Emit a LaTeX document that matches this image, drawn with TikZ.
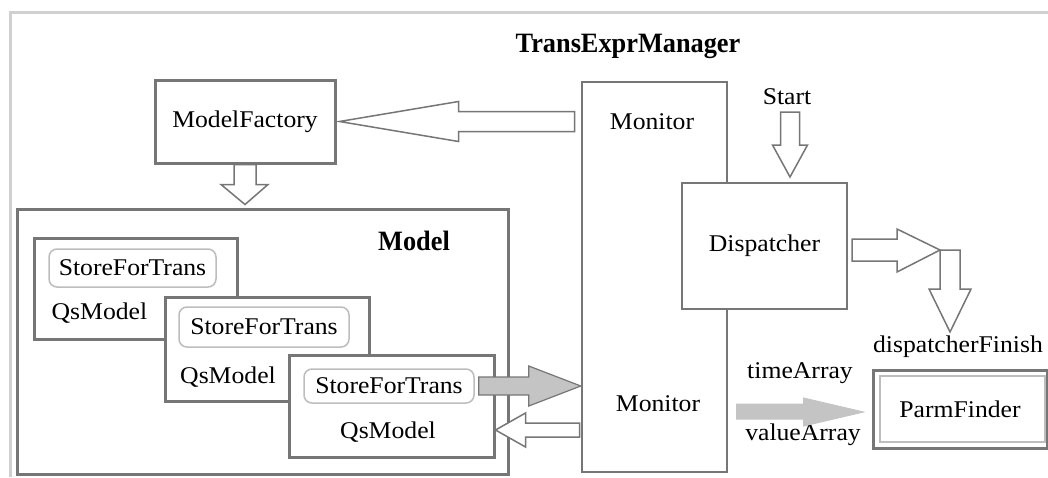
\documentclass[tikz,border=0pt]{standalone}
\usepackage{fontspec}
\setmainfont[FakeStretch=1.07]{Liberation Serif}
\newfontfamily\headfont[FakeStretch=0.94]{Liberation Serif}
\usepackage{tikz}
\usetikzlibrary{arrows,positioning}

\definecolor{boxgray}{HTML}{767676}
\definecolor{framegray}{HTML}{D0D0D0}
\definecolor{storegray}{HTML}{BDBDBD}
\definecolor{fillgray}{HTML}{C4C4C4}

\begin{document}
\begin{tikzpicture}[x=1pt, y=-1pt, font=\fontsize{24}{28}\selectfont,
    box/.style={draw=boxgray, line width=2.5pt, fill=white, inner sep=0pt},
    store/.style={draw=storegray, line width=1.5pt, rounded corners=8pt, fill=white, inner sep=0pt},
    heading/.style={font=\headfont\bfseries\fontsize{28}{32}\selectfont},
    hollow/.style={draw=boxgray, line width=1.5pt, fill=white, line join=miter},
    shaded/.style={draw=boxgray, line width=1.2pt, fill=fillgray, line join=miter},
    dataflow/.style={draw=fillgray, line width=1pt, fill=fillgray}]
    \useasboundingbox (0,0) rectangle (1048,477);
    \draw [framegray, line width=3pt] (10,477) -- (10,12) -- (1048,12);

    % Nodes {title, ModelFactory, Monitor, Dispatcher, ParmFinder}
    \node [heading]                                                  (title)  at (628,46)    {TransExprManager};
    \node [box, line width=3pt, minimum width=180pt, minimum height=83pt] (mf) at (245,121.5) {ModelFactory};
    \node [box, minimum width=145pt, minimum height=390pt]           (mon)    at (654.5,277) {};
    \node [box, minimum width=165pt, minimum height=126pt]           (disp)   at (764.5,246) {Dispatcher};
    \node                                                            (montop) at (652,122)   {Monitor};
    \node                                                            (monbot) at (658,404)   {Monitor};
    \node                                                            (start)  at (787,97)    {Start};
    \node [box, line width=3pt, minimum width=174pt, minimum height=78pt] (pf) at (960,409)  {ParmFinder};
    \draw [storegray, line width=2pt] ([xshift=8pt,yshift=-7pt]pf.north west) rectangle ([xshift=-4pt,yshift=8pt]pf.south east);
    \node                                                            (finish) at (958,347)   {dispatcherFinish};
    \node                                                            (time)   at (800,373)   {timeArray};
    \node                                                            (value)  at (803,435)   {valueArray};

    % Nodes {Model, QsModel 1..3, StoreForTrans 1..3}
    \node [box, line width=3pt, minimum width=491pt, minimum height=265pt] (model) at (262.5,341.5) {};
    \node [heading]                                                  (modeltxt) at (414,241) {Model};
    \node [box, line width=3pt, minimum width=203pt, minimum height=101pt] (q1) at (135.5,288.5) {};
    \node [store, minimum width=167pt, minimum height=38pt]          (s1)     at (132.5,268) {StoreForTrans};
    \node                                                            (q1txt)  at (99.5,313)  {QsModel};
    \node [box, line width=3pt, minimum width=204pt, minimum height=104pt] (q2) at (267,349) {};
    \node [store, minimum width=170pt, minimum height=40pt]          (s2)     at (264,327)   {StoreForTrans};
    \node                                                            (q2txt)  at (228,377)   {QsModel};
    \node [box, line width=3pt, minimum width=205pt, minimum height=102pt] (q3) at (391.5,406) {};
    \node [store, minimum width=170pt, minimum height=34pt]          (s3)     at (389,386)   {StoreForTrans};
    \node                                                            (q3txt)  at (388,432)   {QsModel};

    \coordinate (startarrow) at (790,112);
    \coordinate (dspout)     at (852,250);

    % Paths
    \draw [hollow] ([xshift=3pt]mf.east) -- ++(119,-20) -- ++(0,10) -- ++(116,0) -- ++(0,20) -- ++(-116,0) -- ++(0,10) -- cycle;
    \draw [hollow] (mf.south) ++(-11,0) -- ++(0,20) -- ++(-13,0) -- ++(24,20) -- ++(23,-20) -- ++(-12,0) -- ++(0,-20) -- cycle;
    \draw [hollow] (startarrow) ++(-9.5,0) -- ++(0,33) -- ++(-8,0) -- ++(17.5,32) -- ++(17.5,-32) -- ++(-8,0) -- ++(0,-33) -- cycle;
    \draw [hollow] (dspout) ++(88,0) -- ++(20,0) -- ++(0,39) -- ++(11,0) -- ++(-21,43) -- ++(-21,-43) -- ++(11,0) -- cycle;
    \draw [hollow] (dspout) ++(0,-11) -- ++(45,0) -- ++(0,-10) -- ++(43,21) -- ++(-43,22) -- ++(0,-11) -- ++(-45,0) -- cycle;
    \draw [shaded] ([xshift=4pt]s3.east) ++(0,-9) -- ++(50,0) -- ++(0,-11) -- ++(52,20) -- ++(-52,20) -- ++(0,-11) -- ++(-50,0) -- cycle;
    \draw [hollow] ([yshift=-24pt]q3.east) -- ++(30,-17) -- ++(0,10) -- ++(54,0) -- ++(0,14) -- ++(-54,0) -- ++(0,10) -- cycle;
    \draw [dataflow] ([xshift=-8pt,yshift=-3pt]pf.west) -- ++(-60,-14) -- ++(0,6) -- ++(-67,0) -- ++(0,15) -- ++(67,0) -- ++(0,7) -- cycle;

\end{tikzpicture}
\end{document}
